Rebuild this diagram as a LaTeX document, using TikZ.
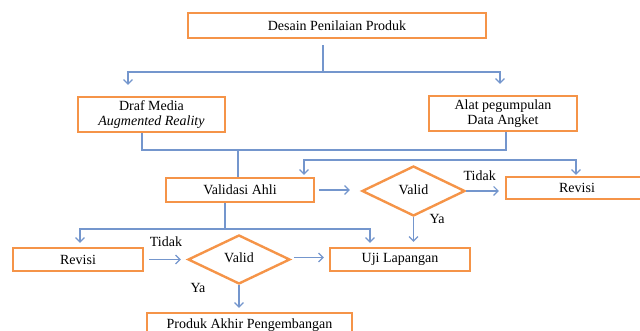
\documentclass[tikz,border=0pt]{standalone}
\usepackage{fontspec}
\setmainfont{Liberation Serif}
\usetikzlibrary{shapes.geometric,arrows.meta}
\definecolor{boxorange}{RGB}{245,148,72}
\definecolor{lineblue}{RGB}{116,150,205}
\begin{document}
\begin{tikzpicture}[x=1pt, y=-1pt,
    font=\fontsize{14}{15.5}\selectfont,
    box/.style={rectangle, draw=boxorange, line width=2.4pt, inner sep=0pt},
    dia/.style={diamond, draw=boxorange, line width=2.4pt, inner sep=0pt, aspect=2},
    line/.style={draw=lineblue, line width=1.1pt},
    arr/.style={line, -{Straight Barb[length=4.5pt,width=9pt]}}]
    \useasboundingbox (0,0) rectangle (640,331);

    \node[box, minimum width=298pt, minimum height=25pt] (A) at (337,25.5) {Desain Penilaian  Produk};

    \node[box, minimum width=147pt, minimum height=35pt, align=center] (B) at (151.5,114.5) {Draf Media\\ \textit{Augmented Reality}};
    \node[box, minimum width=148pt, minimum height=35pt, align=center] (C) at (503,113.5) {Alat pegumpulan\\ Data Angket};

    \node[box, minimum width=148pt, minimum height=24pt] (D) at (240,190) {Validasi Ahli};
    \node[dia, minimum width=103pt, minimum height=50pt] (E) at (413.5,191) {\raisebox{3pt}{Valid}};
    \node[box, minimum width=142pt, minimum height=22pt] (F) at (577,188) {Revisi};

    \node[box, minimum width=130pt, minimum height=23pt] (G) at (78,259.5) {Revisi};
    \node[dia, minimum width=102pt, minimum height=49pt] (H) at (239,259.5) {\raisebox{3pt}{Valid}};
    \node[box, minimum width=140pt, minimum height=23pt] (I) at (400,259.5) {Uji Lapangan};

    \node[box, minimum width=205pt, minimum height=25pt] (J) at (249.5,325.5) {\raisebox{2pt}{Produk Akhir Pengembangan}};

    \coordinate (t1) at (323,72);
    \coordinate (t2) at (238,150);
    \coordinate (t3) at (440,160);
    \coordinate (t4) at (225,229);

    \draw[line, shorten <=6pt] ([xshift=-14pt]A.south) to (t1);
    \draw[arr, shorten >=11pt] (t1) -| ([xshift=-23.5pt]B.north);
    \draw[arr, shorten >=11pt] (t1) -| ([xshift=-3pt]C.north);

    \draw[line] ([xshift=-9.5pt]B.south) |- (t2);
    \draw[line] ([xshift=3pt]C.south) |- (t2);
    \draw[line] (t2) to (t2 |- D.north);

    \draw[arr, shorten >=2pt] (t3) -| ([xshift=64pt]D.north);
    \draw[arr, shorten >=1pt] (t3) -| ([xshift=-1pt]F.north);

    \draw[arr, shorten <=4pt, shorten >=11pt] (D.east) to (D.east -| E.west);
    \draw[arr, shorten >=6pt] (E.east) to node[above=6pt, pos=0.35] {Tidak} (E.east -| F.west);
    \draw[arr, shorten >=5pt] (E.south) to (E.south |- I.north);
    \node (ya1) at (437,219) {Ya};

    \draw[line] ([xshift=-15pt]D.south) to (t4);
    \draw[arr, shorten >=4pt] (t4) -| ([xshift=2pt]G.north);
    \draw[arr, shorten >=4pt] (t4) -| ([xshift=-30pt]I.north);

    \draw[arr, shorten <=5pt, shorten >=6pt] (G.east) to (G.east -| H.west);
    \node (tidak2) at (166,242) {Tidak};
    \draw[arr, shorten <=3pt, shorten >=5pt] ([yshift=2pt]H.east) to ([yshift=2pt]H.east -| I.west);
    \draw[arr, shorten >=4pt] (H.south) to (H.south |- J.north);
    \node (ya2) at (198,288) {Ya};
\end{tikzpicture}
\end{document}
